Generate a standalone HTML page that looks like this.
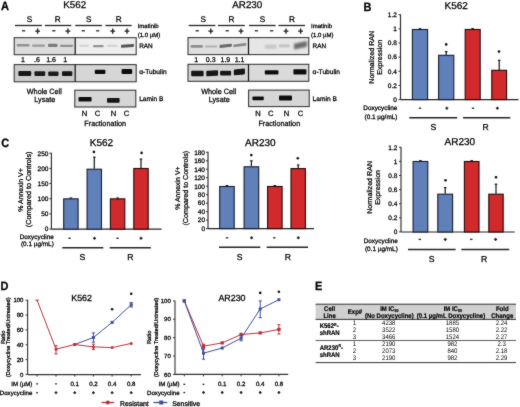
<!DOCTYPE html>
<html><head><meta charset="utf-8"><style>
html,body{margin:0;padding:0;background:#fff;}
body{width:520px;height:407px;overflow:hidden;}
svg{display:block;font-family:"Liberation Sans", sans-serif;will-change:transform;text-rendering:geometricPrecision;}
</style></head><body>
<svg width="520" height="407" viewBox="0 0 520 407">
<defs>
<filter id="b1" x="-30%" y="-100%" width="160%" height="300%"><feGaussianBlur stdDeviation="0.5"/></filter>
<filter id="b2" x="-30%" y="-100%" width="160%" height="300%"><feGaussianBlur stdDeviation="1"/></filter>
</defs>
<filter id="soft" filterUnits="userSpaceOnUse" x="0" y="0" width="520" height="407" color-interpolation-filters="sRGB"><feConvolveMatrix order="3" kernelMatrix="1 2 1 2 24.0 2 1 2 1" divisor="36.0" edgeMode="duplicate" preserveAlpha="true"/></filter>
<rect width="520" height="407" fill="#fff"/>
<g filter="url(#soft)">
<rect width="520" height="407" fill="#fff"/>
<text x="0.9" y="9.9" font-size="11.0" text-anchor="start" font-weight="bold" fill="#000" transform="translate(0.9 9.9) scale(1 1.1) translate(-0.9 -9.9)" stroke="#000" stroke-width="0.25">A</text>
<text x="363.6" y="10.7" font-size="11.0" text-anchor="start" font-weight="bold" fill="#000" transform="translate(363.6 10.7) scale(1 1.1) translate(-363.6 -10.7)" stroke="#000" stroke-width="0.25">B</text>
<text x="1.3" y="147.3" font-size="11.0" text-anchor="start" font-weight="bold" fill="#000" transform="translate(1.3 147.3) scale(1 1.1) translate(-1.3 -147.3)" stroke="#000" stroke-width="0.25">C</text>
<text x="0.4" y="290.0" font-size="11.0" text-anchor="start" font-weight="bold" fill="#000" transform="translate(0.4 290.0) scale(1 1.1) translate(-0.4 -290.0)" stroke="#000" stroke-width="0.25">D</text>
<text x="315.1" y="289.9" font-size="11.0" text-anchor="start" font-weight="bold" fill="#000" transform="translate(315.1 289.9) scale(1 1.1) translate(-315.1 -289.9)" stroke="#000" stroke-width="0.25">E</text>
<rect x="14.2" y="37.7" width="61.0" height="17.0" fill="#dcdcdc" stroke="none" stroke-width="1"/>
<rect x="75.2" y="37.7" width="60.999999999999986" height="17.0" fill="#eeeeee" stroke="none" stroke-width="1"/>
<g filter="url(#b1)"><rect x="16.6" y="44.0" width="12.899999999999999" height="2.3999999999999986" rx="1.0" fill="#929292"/></g>
<g filter="url(#b1)"><rect x="32" y="44.4" width="13" height="2.3999999999999986" rx="1.0" fill="#9a9a9a"/></g>
<g filter="url(#b1)"><rect x="48" y="43.7" width="9.5" height="3.299999999999997" rx="1.0" fill="#7c7c7c"/></g>
<g filter="url(#b1)"><rect x="60" y="44.7" width="13" height="2.3999999999999986" rx="1.0" fill="#909090"/></g>
<g filter="url(#b1)"><rect x="79" y="44.8" width="10.299999999999997" height="2.0" rx="1.0" fill="#d4d4d4"/></g>
<g filter="url(#b1)"><rect x="93" y="44.9" width="10.599999999999994" height="2.3000000000000043" rx="1.0" fill="#939393"/></g>
<g filter="url(#b1)"><rect x="107" y="44.8" width="10.299999999999997" height="2.0" rx="1.0" fill="#d0d0d0"/></g>
<g filter="url(#b1)"><rect x="121" y="44.4" width="13" height="2.8999999999999986" rx="1.0" fill="#575757" transform="translate(127.5 45.849999999999994) skewY(-4) translate(-127.5 -45.849999999999994)"/></g>
<rect x="14.2" y="37.7" width="121.99999999999999" height="17.0" fill="none" stroke="#333" stroke-width="1.05"/>
<line x1="75.2" y1="37.7" x2="75.2" y2="54.7" stroke="#111" stroke-width="1.2"/>
<rect x="14.2" y="64.6" width="61.0" height="17.200000000000003" fill="#cbcbcb" stroke="none" stroke-width="1"/>
<rect x="75.2" y="64.6" width="60.999999999999986" height="17.200000000000003" fill="#d6d6d6" stroke="none" stroke-width="1"/>
<g filter="url(#b1)"><rect x="18.4" y="71.1" width="12.8" height="4.800000000000011" rx="1.0" fill="#151515"/></g>
<g filter="url(#b1)"><rect x="34.5" y="71.19999999999999" width="10.700000000000003" height="4.700000000000017" rx="1.0" fill="#1a1a1a"/></g>
<g filter="url(#b1)"><rect x="48.2" y="71.39999999999999" width="10.299999999999997" height="4.500000000000014" rx="1.0" fill="#1a1a1a"/></g>
<g filter="url(#b1)"><rect x="62" y="71.3" width="10.299999999999997" height="4.6000000000000085" rx="1.0" fill="#151515"/></g>
<g filter="url(#b1)"><rect x="94.8" y="69.69999999999999" width="10.600000000000009" height="4.300000000000011" rx="1.0" fill="#0e0e0e"/></g>
<g filter="url(#b1)"><rect x="121.6" y="69.1" width="10.599999999999994" height="4.900000000000006" rx="1.0" fill="#0e0e0e"/></g>
<rect x="14.2" y="64.6" width="121.99999999999999" height="17.200000000000003" fill="none" stroke="#333" stroke-width="1.05"/>
<line x1="75.2" y1="64.6" x2="75.2" y2="81.8" stroke="#111" stroke-width="1.2"/>
<rect x="74.8" y="90.2" width="61.000000000000014" height="16.799999999999997" fill="#d6d6d6" stroke="none" stroke-width="1"/>
<g filter="url(#b1)"><rect x="78.5" y="96.89999999999999" width="13.099999999999994" height="4.500000000000014" rx="1.0" fill="#0e0e0e"/></g>
<g filter="url(#b1)"><rect x="107" y="98.1" width="12.599999999999994" height="4.6000000000000085" rx="1.0" fill="#121212"/></g>
<rect x="74.8" y="90.2" width="61.000000000000014" height="16.799999999999997" fill="none" stroke="#333" stroke-width="1.05"/>
<text x="63.3" y="8.1" font-size="9.8" text-anchor="start" font-weight="normal" fill="#000" stroke="#000" stroke-width="0.26">K562</text>
<text x="29.4" y="22.2" font-size="8.2" text-anchor="middle" font-weight="normal" fill="#000" stroke="#000" stroke-width="0.26">S</text>
<text x="57.8" y="22.2" font-size="8.2" text-anchor="middle" font-weight="normal" fill="#000" stroke="#000" stroke-width="0.26">R</text>
<text x="88.8" y="22.2" font-size="8.2" text-anchor="middle" font-weight="normal" fill="#000" stroke="#000" stroke-width="0.26">S</text>
<text x="118.8" y="22.2" font-size="8.2" text-anchor="middle" font-weight="normal" fill="#000" stroke="#000" stroke-width="0.26">R</text>
<line x1="15" y1="25.5" x2="42" y2="25.5" stroke="#222" stroke-width="1.3"/>
<line x1="44.8" y1="25.5" x2="71.3" y2="25.5" stroke="#222" stroke-width="1.3"/>
<line x1="75.2" y1="25.5" x2="102" y2="25.5" stroke="#222" stroke-width="1.3"/>
<line x1="105.4" y1="25.5" x2="131.7" y2="25.5" stroke="#222" stroke-width="1.3"/>
<line x1="22.0" y1="30.8" x2="25.200000000000003" y2="30.8" stroke="#222" stroke-width="1.3"/>
<line x1="35.2" y1="31.1" x2="40.0" y2="31.1" stroke="#222" stroke-width="1.35"/>
<line x1="37.6" y1="28.4" x2="37.6" y2="33.8" stroke="#222" stroke-width="1.35"/>
<line x1="52.199999999999996" y1="30.8" x2="55.4" y2="30.8" stroke="#222" stroke-width="1.3"/>
<line x1="65.5" y1="31.1" x2="70.30000000000001" y2="31.1" stroke="#222" stroke-width="1.35"/>
<line x1="67.9" y1="28.4" x2="67.9" y2="33.8" stroke="#222" stroke-width="1.35"/>
<line x1="81.7" y1="30.8" x2="84.89999999999999" y2="30.8" stroke="#222" stroke-width="1.3"/>
<line x1="96.10000000000001" y1="30.8" x2="99.3" y2="30.8" stroke="#222" stroke-width="1.3"/>
<line x1="110.3" y1="31.1" x2="115.10000000000001" y2="31.1" stroke="#222" stroke-width="1.35"/>
<line x1="112.7" y1="28.4" x2="112.7" y2="33.8" stroke="#222" stroke-width="1.35"/>
<line x1="124.6" y1="31.1" x2="129.4" y2="31.1" stroke="#222" stroke-width="1.35"/>
<line x1="127" y1="28.4" x2="127" y2="33.8" stroke="#222" stroke-width="1.35"/>
<text x="137.7" y="28.0" font-size="6.0" text-anchor="start" font-weight="normal" fill="#000" stroke="#000" stroke-width="0.26">Imatinib</text>
<text x="137.7" y="36.7" font-size="6.0" text-anchor="start" font-weight="normal" fill="#000" stroke="#000" stroke-width="0.26">(1.0 µM)</text>
<text x="139.2" y="48.2" font-size="6.4" text-anchor="start" font-weight="normal" fill="#000" stroke="#000" stroke-width="0.26">RAN</text>
<text x="139.2" y="74.3" font-size="6.6" text-anchor="start" font-weight="normal" fill="#000" stroke="#000" stroke-width="0.26">α-Tubulin</text>
<text x="139.2" y="100.7" font-size="6.6" text-anchor="start" font-weight="normal" fill="#000" stroke="#000" stroke-width="0.26">Lamin B</text>
<text x="22.9" y="62" font-size="7" text-anchor="middle" font-weight="normal" fill="#000" stroke="#000" stroke-width="0.26">1</text>
<text x="37" y="62" font-size="7" text-anchor="middle" font-weight="normal" fill="#000" stroke="#000" stroke-width="0.26">.6</text>
<text x="51.1" y="62" font-size="7" text-anchor="middle" font-weight="normal" fill="#000" stroke="#000" stroke-width="0.26">1.6</text>
<text x="65.1" y="62" font-size="7" text-anchor="middle" font-weight="normal" fill="#000" stroke="#000" stroke-width="0.26">1</text>
<text x="44.300000000000004" y="93.7" font-size="7.6" text-anchor="middle" font-weight="normal" fill="#000" transform="translate(44.300000000000004 93.7) scale(0.955 1) translate(-44.300000000000004 -93.7)" stroke="#000" stroke-width="0.26">Whole Cell</text>
<text x="44.800000000000004" y="102.0" font-size="7.6" text-anchor="middle" font-weight="normal" fill="#000" transform="translate(44.800000000000004 102.0) scale(0.955 1) translate(-44.800000000000004 -102.0)" stroke="#000" stroke-width="0.26">Lysate</text>
<text x="84.5" y="116" font-size="7.6" text-anchor="middle" font-weight="normal" fill="#000" stroke="#000" stroke-width="0.26">N</text>
<text x="97.4" y="116" font-size="7.6" text-anchor="middle" font-weight="normal" fill="#000" stroke="#000" stroke-width="0.26">C</text>
<text x="113.4" y="116" font-size="7.6" text-anchor="middle" font-weight="normal" fill="#000" stroke="#000" stroke-width="0.26">N</text>
<text x="126.5" y="116" font-size="7.6" text-anchor="middle" font-weight="normal" fill="#000" stroke="#000" stroke-width="0.26">C</text>
<text x="105.2" y="126.4" font-size="7.6" text-anchor="middle" font-weight="normal" fill="#000" transform="translate(105.2 126.4) scale(0.95 1) translate(-105.2 -126.4)" stroke="#000" stroke-width="0.26">Fractionation</text>
<rect x="188" y="37.6" width="60.5" height="17.0" fill="#dfdfdf" stroke="none" stroke-width="1"/>
<rect x="248.5" y="37.6" width="60.30000000000001" height="17.0" fill="#e6e6e6" stroke="none" stroke-width="1"/>
<g filter="url(#b1)"><rect x="190.6" y="45" width="12.300000000000011" height="2.700000000000003" rx="1.0" fill="#8e8e8e"/></g>
<g filter="url(#b1)"><rect x="204.8" y="45.5" width="12.399999999999977" height="2.0" rx="1.0" fill="#b3b3b3"/></g>
<g filter="url(#b1)"><rect x="219.6" y="44.3" width="12.300000000000011" height="3.1000000000000014" rx="1.0" fill="#696969" transform="translate(225.75 45.849999999999994) skewY(-6) translate(-225.75 -45.849999999999994)"/></g>
<g filter="url(#b1)"><rect x="233.4" y="43.8" width="13.0" height="2.6000000000000014" rx="1.0" fill="#878787" transform="translate(239.9 45.099999999999994) skewY(-7) translate(-239.9 -45.099999999999994)"/></g>
<g filter="url(#b2)"><rect x="264.8" y="44.8" width="11.800000000000011" height="3.700000000000003" rx="1.0" fill="#c2c2c2"/></g>
<g filter="url(#b1)"><rect x="279" y="44.2" width="10.699999999999989" height="3.1999999999999957" rx="1.0" fill="#c6c6c6"/></g>
<g filter="url(#b2)"><rect x="294" y="42.4" width="13" height="5.800000000000004" rx="1.0" fill="#6a6a6a" transform="translate(300.5 45.3) skewY(-12) translate(-300.5 -45.3)"/></g>
<rect x="188" y="37.6" width="120.80000000000001" height="17.0" fill="none" stroke="#333" stroke-width="1.05"/>
<line x1="248.5" y1="37.6" x2="248.5" y2="54.6" stroke="#111" stroke-width="1.2"/>
<rect x="188" y="64.3" width="60.5" height="17.0" fill="#d4d4d4" stroke="none" stroke-width="1"/>
<rect x="248.5" y="64.3" width="60.30000000000001" height="17.0" fill="#dadada" stroke="none" stroke-width="1"/>
<g filter="url(#b1)"><rect x="191.2" y="70.8" width="12.400000000000006" height="5.400000000000006" rx="1.0" fill="#141414"/></g>
<g filter="url(#b1)"><rect x="206.3" y="70.5" width="11.799999999999983" height="5.6000000000000085" rx="1.0" fill="#161616" transform="translate(212.2 73.30000000000001) skewY(-3) translate(-212.2 -73.30000000000001)"/></g>
<g filter="url(#b1)"><rect x="220.1" y="70.8" width="11.0" height="4.700000000000003" rx="1.0" fill="#181818"/></g>
<g filter="url(#b1)"><rect x="233.8" y="69.0" width="11.099999999999994" height="5.800000000000011" rx="1.0" fill="#121212" transform="translate(239.35000000000002 71.9) skewY(-5) translate(-239.35000000000002 -71.9)"/></g>
<g filter="url(#b1)"><rect x="264.8" y="70.3" width="13.599999999999966" height="4.1000000000000085" rx="1.0" fill="#0e0e0e"/></g>
<g filter="url(#b1)"><rect x="293.4" y="69.19999999999999" width="13.0" height="5.200000000000017" rx="1.0" fill="#0e0e0e"/></g>
<rect x="188" y="64.3" width="120.80000000000001" height="17.0" fill="none" stroke="#333" stroke-width="1.05"/>
<line x1="248.5" y1="64.3" x2="248.5" y2="81.3" stroke="#111" stroke-width="1.2"/>
<rect x="248.6" y="90.1" width="60.599999999999994" height="16.5" fill="#d6d6d6" stroke="none" stroke-width="1"/>
<g filter="url(#b1)"><rect x="252.4" y="96.6" width="11.400000000000006" height="3.6000000000000085" rx="1.0" fill="#0e0e0e"/></g>
<g filter="url(#b1)"><rect x="279" y="95.6" width="13" height="4.800000000000011" rx="1.0" fill="#111"/></g>
<rect x="248.6" y="90.1" width="60.599999999999994" height="16.5" fill="none" stroke="#333" stroke-width="1.05"/>
<text x="232.3" y="8.1" font-size="9.8" text-anchor="start" font-weight="normal" fill="#000" stroke="#000" stroke-width="0.26">AR230</text>
<text x="203.2" y="22.2" font-size="8.2" text-anchor="middle" font-weight="normal" fill="#000" stroke="#000" stroke-width="0.26">S</text>
<text x="231.5" y="22.2" font-size="8.2" text-anchor="middle" font-weight="normal" fill="#000" stroke="#000" stroke-width="0.26">R</text>
<text x="262.4" y="22.2" font-size="8.2" text-anchor="middle" font-weight="normal" fill="#000" stroke="#000" stroke-width="0.26">S</text>
<text x="291.9" y="22.2" font-size="8.2" text-anchor="middle" font-weight="normal" fill="#000" stroke="#000" stroke-width="0.26">R</text>
<line x1="188.7" y1="25.5" x2="215.4" y2="25.5" stroke="#222" stroke-width="1.3"/>
<line x1="218" y1="25.5" x2="244.8" y2="25.5" stroke="#222" stroke-width="1.3"/>
<line x1="249" y1="25.5" x2="275.6" y2="25.5" stroke="#222" stroke-width="1.3"/>
<line x1="278.5" y1="25.5" x2="305" y2="25.5" stroke="#222" stroke-width="1.3"/>
<line x1="195.6" y1="30.8" x2="198.79999999999998" y2="30.8" stroke="#222" stroke-width="1.3"/>
<line x1="208.4" y1="31.1" x2="213.20000000000002" y2="31.1" stroke="#222" stroke-width="1.35"/>
<line x1="210.8" y1="28.4" x2="210.8" y2="33.8" stroke="#222" stroke-width="1.35"/>
<line x1="225.6" y1="30.8" x2="228.79999999999998" y2="30.8" stroke="#222" stroke-width="1.3"/>
<line x1="238.6" y1="31.1" x2="243.4" y2="31.1" stroke="#222" stroke-width="1.35"/>
<line x1="241" y1="28.4" x2="241" y2="33.8" stroke="#222" stroke-width="1.35"/>
<line x1="254.70000000000002" y1="30.8" x2="257.90000000000003" y2="30.8" stroke="#222" stroke-width="1.3"/>
<line x1="270.09999999999997" y1="30.8" x2="273.3" y2="30.8" stroke="#222" stroke-width="1.3"/>
<line x1="283.6" y1="31.1" x2="288.4" y2="31.1" stroke="#222" stroke-width="1.35"/>
<line x1="286" y1="28.4" x2="286" y2="33.8" stroke="#222" stroke-width="1.35"/>
<line x1="298.20000000000005" y1="31.1" x2="303.0" y2="31.1" stroke="#222" stroke-width="1.35"/>
<line x1="300.6" y1="28.4" x2="300.6" y2="33.8" stroke="#222" stroke-width="1.35"/>
<text x="311.1" y="28.0" font-size="6.0" text-anchor="start" font-weight="normal" fill="#000" stroke="#000" stroke-width="0.26">Imatinib</text>
<text x="311.1" y="36.7" font-size="6.0" text-anchor="start" font-weight="normal" fill="#000" stroke="#000" stroke-width="0.26">(1.0 µM)</text>
<text x="312.6" y="48.2" font-size="6.4" text-anchor="start" font-weight="normal" fill="#000" stroke="#000" stroke-width="0.26">RAN</text>
<text x="312.6" y="74.3" font-size="6.6" text-anchor="start" font-weight="normal" fill="#000" stroke="#000" stroke-width="0.26">α-Tubulin</text>
<text x="312.6" y="100.7" font-size="6.6" text-anchor="start" font-weight="normal" fill="#000" stroke="#000" stroke-width="0.26">Lamin B</text>
<text x="196.3" y="62" font-size="7" text-anchor="middle" font-weight="normal" fill="#000" stroke="#000" stroke-width="0.26">1</text>
<text x="210.7" y="62" font-size="7" text-anchor="middle" font-weight="normal" fill="#000" stroke="#000" stroke-width="0.26">0.3</text>
<text x="225.4" y="62" font-size="7" text-anchor="middle" font-weight="normal" fill="#000" stroke="#000" stroke-width="0.26">1.9</text>
<text x="239.6" y="62" font-size="7" text-anchor="middle" font-weight="normal" fill="#000" stroke="#000" stroke-width="0.26">1.1</text>
<text x="218.7" y="93.7" font-size="7.6" text-anchor="middle" font-weight="normal" fill="#000" transform="translate(218.7 93.7) scale(0.955 1) translate(-218.7 -93.7)" stroke="#000" stroke-width="0.26">Whole Cell</text>
<text x="219.2" y="102.0" font-size="7.6" text-anchor="middle" font-weight="normal" fill="#000" transform="translate(219.2 102.0) scale(0.955 1) translate(-219.2 -102.0)" stroke="#000" stroke-width="0.26">Lysate</text>
<text x="258" y="116" font-size="7.6" text-anchor="middle" font-weight="normal" fill="#000" stroke="#000" stroke-width="0.26">N</text>
<text x="270.8" y="116" font-size="7.6" text-anchor="middle" font-weight="normal" fill="#000" stroke="#000" stroke-width="0.26">C</text>
<text x="286.4" y="116" font-size="7.6" text-anchor="middle" font-weight="normal" fill="#000" stroke="#000" stroke-width="0.26">N</text>
<text x="300.4" y="116" font-size="7.6" text-anchor="middle" font-weight="normal" fill="#000" stroke="#000" stroke-width="0.26">C</text>
<text x="279.3" y="126.4" font-size="7.6" text-anchor="middle" font-weight="normal" fill="#000" transform="translate(279.3 126.4) scale(0.95 1) translate(-279.3 -126.4)" stroke="#000" stroke-width="0.26">Fractionation</text>
<line x1="400.5" y1="14.299999999999999" x2="400.5" y2="99.6" stroke="#2a2a2a" stroke-width="1.15"/>
<line x1="400.5" y1="99.6" x2="518.5" y2="99.6" stroke="#222" stroke-width="1.2"/>
<line x1="398.5" y1="14.75" x2="400.5" y2="14.75" stroke="#333" stroke-width="1"/>
<text x="396.9" y="17.05" font-size="6.5" text-anchor="end" font-weight="normal" fill="#000" stroke="#000" stroke-width="0.26">1.2</text>
<line x1="398.5" y1="28.89" x2="400.5" y2="28.89" stroke="#333" stroke-width="1"/>
<text x="396.9" y="31.19" font-size="6.5" text-anchor="end" font-weight="normal" fill="#000" stroke="#000" stroke-width="0.26">1</text>
<line x1="398.5" y1="43.03" x2="400.5" y2="43.03" stroke="#333" stroke-width="1"/>
<text x="396.9" y="45.33" font-size="6.5" text-anchor="end" font-weight="normal" fill="#000" stroke="#000" stroke-width="0.26">0.8</text>
<line x1="398.5" y1="57.17" x2="400.5" y2="57.17" stroke="#333" stroke-width="1"/>
<text x="396.9" y="59.47" font-size="6.5" text-anchor="end" font-weight="normal" fill="#000" stroke="#000" stroke-width="0.26">0.6</text>
<line x1="398.5" y1="71.31" x2="400.5" y2="71.31" stroke="#333" stroke-width="1"/>
<text x="396.9" y="73.61" font-size="6.5" text-anchor="end" font-weight="normal" fill="#000" stroke="#000" stroke-width="0.26">0.4</text>
<line x1="398.5" y1="85.45" x2="400.5" y2="85.45" stroke="#333" stroke-width="1"/>
<text x="396.9" y="87.75" font-size="6.5" text-anchor="end" font-weight="normal" fill="#000" stroke="#000" stroke-width="0.26">0.2</text>
<line x1="398.5" y1="99.59" x2="400.5" y2="99.59" stroke="#333" stroke-width="1"/>
<text x="396.9" y="101.89" font-size="6.5" text-anchor="end" font-weight="normal" fill="#000" stroke="#000" stroke-width="0.26">0</text>
<line x1="420.0" y1="28.7" x2="420.0" y2="29.1" stroke="#1a1a1a" stroke-width="1.25"/>
<line x1="418.7" y1="28.7" x2="421.3" y2="28.7" stroke="#1a1a1a" stroke-width="1.2"/>
<rect x="412.4" y="29.5" width="15.2" height="70.1" fill="#6080ba" stroke="#161c2c" stroke-width="1.1"/>
<line x1="446.2" y1="51.6" x2="446.2" y2="54.9" stroke="#1a1a1a" stroke-width="1.25"/>
<line x1="444.9" y1="51.6" x2="447.5" y2="51.6" stroke="#1a1a1a" stroke-width="1.2"/>
<rect x="438.59999999999997" y="55.3" width="15.2" height="44.3" fill="#6080ba" stroke="#161c2c" stroke-width="1.1"/>
<line x1="472.70000000000005" y1="28.7" x2="472.70000000000005" y2="29.1" stroke="#1a1a1a" stroke-width="1.25"/>
<line x1="471.40000000000003" y1="28.7" x2="474.00000000000006" y2="28.7" stroke="#1a1a1a" stroke-width="1.2"/>
<rect x="465.2" y="29.5" width="15.00000000000001" height="70.1" fill="#d12a2c" stroke="#260808" stroke-width="1.1"/>
<line x1="499.2" y1="60.3" x2="499.2" y2="69.9" stroke="#1a1a1a" stroke-width="1.25"/>
<line x1="497.9" y1="60.3" x2="500.5" y2="60.3" stroke="#1a1a1a" stroke-width="1.2"/>
<rect x="491.79999999999995" y="70.30000000000001" width="14.800000000000022" height="29.29999999999999" fill="#d12a2c" stroke="#260808" stroke-width="1.1"/>
<text x="456.2" y="8.6" font-size="10.0" text-anchor="middle" font-weight="normal" fill="#000" stroke="#000" stroke-width="0.26">K562</text>
<text x="373.9" y="57.3" font-size="7.1" text-anchor="middle" font-weight="normal" fill="#000" transform="translate(373.9 57.3) rotate(-90) translate(-373.9 -57.3)" stroke="#000" stroke-width="0.26">Normalized RAN</text>
<text x="382.3" y="57.3" font-size="7.05" text-anchor="middle" font-weight="normal" fill="#000" transform="translate(382.3 57.3) rotate(-90) translate(-382.3 -57.3)" stroke="#000" stroke-width="0.26">Expression</text>
<circle cx="446.2" cy="44.4" r="1.3" fill="#111"/>
<circle cx="499" cy="51.6" r="1.3" fill="#111"/>
<line x1="418.8" y1="108.2" x2="421.2" y2="108.2" stroke="#222" stroke-width="1.3"/>
<line x1="445.3" y1="108.2" x2="448.3" y2="108.2" stroke="#222" stroke-width="1.3"/>
<line x1="446.8" y1="106.7" x2="446.8" y2="109.7" stroke="#222" stroke-width="1.3"/>
<line x1="471.8" y1="108.2" x2="474.2" y2="108.2" stroke="#222" stroke-width="1.3"/>
<line x1="495.9" y1="108.2" x2="498.9" y2="108.2" stroke="#222" stroke-width="1.3"/>
<line x1="497.4" y1="106.7" x2="497.4" y2="109.7" stroke="#222" stroke-width="1.3"/>
<line x1="409.3" y1="117.8" x2="457.2" y2="117.8" stroke="#222" stroke-width="1.5"/>
<line x1="463" y1="117.8" x2="510.3" y2="117.8" stroke="#222" stroke-width="1.5"/>
<text x="433.4" y="130.4" font-size="8.6" text-anchor="middle" font-weight="normal" fill="#000" stroke="#000" stroke-width="0.26">S</text>
<text x="485.7" y="130.4" font-size="8.6" text-anchor="middle" font-weight="normal" fill="#000" stroke="#000" stroke-width="0.26">R</text>
<text x="397.4" y="110.3" font-size="6.4" text-anchor="end" font-weight="normal" fill="#000" stroke="#000" stroke-width="0.26">Doxycycline</text>
<text x="397.4" y="118.6" font-size="6.4" text-anchor="end" font-weight="normal" fill="#000" stroke="#000" stroke-width="0.26">(0.1 µg/mL)</text>
<line x1="401" y1="146.89999999999998" x2="401" y2="232" stroke="#2a2a2a" stroke-width="1.15"/>
<line x1="401" y1="232" x2="514.7" y2="232" stroke="#222" stroke-width="1.2"/>
<line x1="399" y1="147.3" x2="401" y2="147.3" stroke="#333" stroke-width="1"/>
<text x="397.4" y="149.60000000000002" font-size="6.5" text-anchor="end" font-weight="normal" fill="#000" stroke="#000" stroke-width="0.26">1.2</text>
<line x1="399" y1="161.4" x2="401" y2="161.4" stroke="#333" stroke-width="1"/>
<text x="397.4" y="163.70000000000002" font-size="6.5" text-anchor="end" font-weight="normal" fill="#000" stroke="#000" stroke-width="0.26">1</text>
<line x1="399" y1="175.5" x2="401" y2="175.5" stroke="#333" stroke-width="1"/>
<text x="397.4" y="177.8" font-size="6.5" text-anchor="end" font-weight="normal" fill="#000" stroke="#000" stroke-width="0.26">0.8</text>
<line x1="399" y1="189.60000000000002" x2="401" y2="189.60000000000002" stroke="#333" stroke-width="1"/>
<text x="397.4" y="191.90000000000003" font-size="6.5" text-anchor="end" font-weight="normal" fill="#000" stroke="#000" stroke-width="0.26">0.6</text>
<line x1="399" y1="203.70000000000002" x2="401" y2="203.70000000000002" stroke="#333" stroke-width="1"/>
<text x="397.4" y="206.00000000000003" font-size="6.5" text-anchor="end" font-weight="normal" fill="#000" stroke="#000" stroke-width="0.26">0.4</text>
<line x1="399" y1="217.8" x2="401" y2="217.8" stroke="#333" stroke-width="1"/>
<text x="397.4" y="220.10000000000002" font-size="6.5" text-anchor="end" font-weight="normal" fill="#000" stroke="#000" stroke-width="0.26">0.2</text>
<line x1="399" y1="231.9" x2="401" y2="231.9" stroke="#333" stroke-width="1"/>
<text x="397.4" y="234.20000000000002" font-size="6.5" text-anchor="end" font-weight="normal" fill="#000" stroke="#000" stroke-width="0.26">0</text>
<line x1="420.45" y1="160.7" x2="420.45" y2="161.1" stroke="#1a1a1a" stroke-width="1.25"/>
<line x1="419.15" y1="160.7" x2="421.75" y2="160.7" stroke="#1a1a1a" stroke-width="1.2"/>
<rect x="413.09999999999997" y="161.5" width="14.7" height="70.5" fill="#6080ba" stroke="#161c2c" stroke-width="1.1"/>
<line x1="445.2" y1="187.6" x2="445.2" y2="193.8" stroke="#1a1a1a" stroke-width="1.25"/>
<line x1="443.9" y1="187.6" x2="446.5" y2="187.6" stroke="#1a1a1a" stroke-width="1.2"/>
<rect x="437.79999999999995" y="194.20000000000002" width="14.800000000000022" height="37.79999999999999" fill="#6080ba" stroke="#161c2c" stroke-width="1.1"/>
<line x1="471.7" y1="160.7" x2="471.7" y2="161.1" stroke="#1a1a1a" stroke-width="1.25"/>
<line x1="470.4" y1="160.7" x2="473.0" y2="160.7" stroke="#1a1a1a" stroke-width="1.2"/>
<rect x="464.4" y="161.5" width="14.599999999999977" height="70.5" fill="#d12a2c" stroke="#260808" stroke-width="1.1"/>
<line x1="496.0" y1="184.2" x2="496.0" y2="193.8" stroke="#1a1a1a" stroke-width="1.25"/>
<line x1="494.7" y1="184.2" x2="497.3" y2="184.2" stroke="#1a1a1a" stroke-width="1.2"/>
<rect x="488.79999999999995" y="194.20000000000002" width="14.400000000000045" height="37.79999999999999" fill="#d12a2c" stroke="#260808" stroke-width="1.1"/>
<text x="459.8" y="145" font-size="10.0" text-anchor="middle" font-weight="normal" fill="#000" stroke="#000" stroke-width="0.26">AR230</text>
<text x="372.0" y="187.4" font-size="7.1" text-anchor="middle" font-weight="normal" fill="#000" transform="translate(372.0 187.4) rotate(-90) translate(-372.0 -187.4)" stroke="#000" stroke-width="0.26">Normalized RAN</text>
<text x="380.4" y="187.4" font-size="7.05" text-anchor="middle" font-weight="normal" fill="#000" transform="translate(380.4 187.4) rotate(-90) translate(-380.4 -187.4)" stroke="#000" stroke-width="0.26">Expression</text>
<circle cx="445.5" cy="180.2" r="1.3" fill="#111"/>
<circle cx="496" cy="177.2" r="1.3" fill="#111"/>
<line x1="418.6" y1="239.4" x2="421.0" y2="239.4" stroke="#222" stroke-width="1.3"/>
<line x1="443.8" y1="239.4" x2="446.8" y2="239.4" stroke="#222" stroke-width="1.3"/>
<line x1="445.3" y1="237.9" x2="445.3" y2="240.9" stroke="#222" stroke-width="1.3"/>
<line x1="470.1" y1="239.4" x2="472.5" y2="239.4" stroke="#222" stroke-width="1.3"/>
<line x1="494.1" y1="239.4" x2="497.1" y2="239.4" stroke="#222" stroke-width="1.3"/>
<line x1="495.6" y1="237.9" x2="495.6" y2="240.9" stroke="#222" stroke-width="1.3"/>
<line x1="408" y1="249.6" x2="455.6" y2="249.6" stroke="#222" stroke-width="1.5"/>
<line x1="461.4" y1="249.6" x2="509.2" y2="249.6" stroke="#222" stroke-width="1.5"/>
<text x="431.6" y="261.8" font-size="8.6" text-anchor="middle" font-weight="normal" fill="#000" stroke="#000" stroke-width="0.26">S</text>
<text x="484" y="261.8" font-size="8.6" text-anchor="middle" font-weight="normal" fill="#000" stroke="#000" stroke-width="0.26">R</text>
<text x="397.8" y="242.6" font-size="6.4" text-anchor="end" font-weight="normal" fill="#000" stroke="#000" stroke-width="0.26">Doxycycline</text>
<text x="397.8" y="250.8" font-size="6.4" text-anchor="end" font-weight="normal" fill="#000" stroke="#000" stroke-width="0.26">(0.1 µg/mL)</text>
<line x1="51.4" y1="152.7" x2="51.4" y2="229.2" stroke="#2a2a2a" stroke-width="1.15"/>
<line x1="51.4" y1="229.2" x2="161.6" y2="229.2" stroke="#222" stroke-width="1.2"/>
<line x1="49.4" y1="153.2" x2="51.4" y2="153.2" stroke="#333" stroke-width="1"/>
<text x="48.4" y="155.5" font-size="6.5" text-anchor="end" font-weight="normal" fill="#000" stroke="#000" stroke-width="0.26">250</text>
<line x1="49.4" y1="168.36999999999998" x2="51.4" y2="168.36999999999998" stroke="#333" stroke-width="1"/>
<text x="48.4" y="170.67" font-size="6.5" text-anchor="end" font-weight="normal" fill="#000" stroke="#000" stroke-width="0.26">200</text>
<line x1="49.4" y1="183.54" x2="51.4" y2="183.54" stroke="#333" stroke-width="1"/>
<text x="48.4" y="185.84" font-size="6.5" text-anchor="end" font-weight="normal" fill="#000" stroke="#000" stroke-width="0.26">150</text>
<line x1="49.4" y1="198.70999999999998" x2="51.4" y2="198.70999999999998" stroke="#333" stroke-width="1"/>
<text x="48.4" y="201.01" font-size="6.5" text-anchor="end" font-weight="normal" fill="#000" stroke="#000" stroke-width="0.26">100</text>
<line x1="49.4" y1="213.88" x2="51.4" y2="213.88" stroke="#333" stroke-width="1"/>
<text x="48.4" y="216.18" font-size="6.5" text-anchor="end" font-weight="normal" fill="#000" stroke="#000" stroke-width="0.26">50</text>
<line x1="49.4" y1="229.04999999999998" x2="51.4" y2="229.04999999999998" stroke="#333" stroke-width="1"/>
<text x="48.4" y="231.35" font-size="6.5" text-anchor="end" font-weight="normal" fill="#000" stroke="#000" stroke-width="0.26">0</text>
<line x1="70.9" y1="198.0" x2="70.9" y2="198.45" stroke="#1a1a1a" stroke-width="1.25"/>
<line x1="69.60000000000001" y1="198.0" x2="72.2" y2="198.0" stroke="#1a1a1a" stroke-width="1.2"/>
<rect x="63.699999999999996" y="198.85" width="14.400000000000002" height="30.35" fill="#6080ba" stroke="#161c2c" stroke-width="1.1"/>
<line x1="94.30000000000001" y1="157.2" x2="94.30000000000001" y2="168.8" stroke="#1a1a1a" stroke-width="1.25"/>
<line x1="93.00000000000001" y1="157.2" x2="95.60000000000001" y2="157.2" stroke="#1a1a1a" stroke-width="1.2"/>
<rect x="87.10000000000001" y="169.20000000000002" width="14.400000000000002" height="59.99999999999998" fill="#6080ba" stroke="#161c2c" stroke-width="1.1"/>
<line x1="117.6" y1="198.0" x2="117.6" y2="198.45" stroke="#1a1a1a" stroke-width="1.25"/>
<line x1="116.3" y1="198.0" x2="118.89999999999999" y2="198.0" stroke="#1a1a1a" stroke-width="1.2"/>
<rect x="110.4" y="198.85" width="14.400000000000002" height="30.35" fill="#d12a2c" stroke="#260808" stroke-width="1.1"/>
<line x1="141.0" y1="159.1" x2="141.0" y2="168.1" stroke="#1a1a1a" stroke-width="1.25"/>
<line x1="139.7" y1="159.1" x2="142.3" y2="159.1" stroke="#1a1a1a" stroke-width="1.2"/>
<rect x="133.8" y="168.5" width="14.399999999999988" height="60.699999999999996" fill="#d12a2c" stroke="#260808" stroke-width="1.1"/>
<text x="101.5" y="145.6" font-size="10.0" text-anchor="middle" font-weight="normal" fill="#000" stroke="#000" stroke-width="0.26">K562</text>
<text x="23.3" y="190.0" font-size="6.95" text-anchor="middle" font-weight="normal" fill="#000" transform="translate(23.3 190.0) rotate(-90) translate(-23.3 -190.0)" stroke="#000" stroke-width="0.26">% Annexin V+</text>
<text x="31.5" y="189.4" font-size="7.25" text-anchor="middle" font-weight="normal" fill="#000" transform="translate(31.5 189.4) rotate(-90) translate(-31.5 -189.4)" stroke="#000" stroke-width="0.26">(Compared to Controls)</text>
<circle cx="93.9" cy="151.9" r="1.3" fill="#111"/>
<circle cx="141.6" cy="152.9" r="1.3" fill="#111"/>
<line x1="68.39999999999999" y1="238.3" x2="70.8" y2="238.3" stroke="#222" stroke-width="1.3"/>
<line x1="93.0" y1="238.3" x2="96.0" y2="238.3" stroke="#222" stroke-width="1.3"/>
<line x1="94.5" y1="236.8" x2="94.5" y2="239.8" stroke="#222" stroke-width="1.3"/>
<line x1="116.3" y1="238.3" x2="118.7" y2="238.3" stroke="#222" stroke-width="1.3"/>
<line x1="139.5" y1="238.3" x2="142.5" y2="238.3" stroke="#222" stroke-width="1.3"/>
<line x1="141" y1="236.8" x2="141" y2="239.8" stroke="#222" stroke-width="1.3"/>
<line x1="62.3" y1="247.7" x2="103.3" y2="247.7" stroke="#222" stroke-width="1.5"/>
<line x1="109.7" y1="247.7" x2="150.8" y2="247.7" stroke="#222" stroke-width="1.5"/>
<text x="82.3" y="260.3" font-size="8.6" text-anchor="middle" font-weight="normal" fill="#000" stroke="#000" stroke-width="0.26">S</text>
<text x="130.3" y="260.3" font-size="8.6" text-anchor="middle" font-weight="normal" fill="#000" stroke="#000" stroke-width="0.26">R</text>
<text x="53.8" y="238.7" font-size="6.4" text-anchor="end" font-weight="normal" fill="#000" stroke="#000" stroke-width="0.26">Doxycycline</text>
<text x="53.8" y="245.8" font-size="6.4" text-anchor="end" font-weight="normal" fill="#000" stroke="#000" stroke-width="0.26">(0.1 µg/mL)</text>
<line x1="208" y1="151.79999999999998" x2="208" y2="228.6" stroke="#2a2a2a" stroke-width="1.15"/>
<line x1="208" y1="228.6" x2="314" y2="228.6" stroke="#222" stroke-width="1.2"/>
<line x1="206" y1="152.3" x2="208" y2="152.3" stroke="#333" stroke-width="1"/>
<text x="205" y="154.60000000000002" font-size="6.5" text-anchor="end" font-weight="normal" fill="#000" stroke="#000" stroke-width="0.26">180</text>
<line x1="206" y1="160.78" x2="208" y2="160.78" stroke="#333" stroke-width="1"/>
<text x="205" y="163.08" font-size="6.5" text-anchor="end" font-weight="normal" fill="#000" stroke="#000" stroke-width="0.26">160</text>
<line x1="206" y1="169.26000000000002" x2="208" y2="169.26000000000002" stroke="#333" stroke-width="1"/>
<text x="205" y="171.56000000000003" font-size="6.5" text-anchor="end" font-weight="normal" fill="#000" stroke="#000" stroke-width="0.26">140</text>
<line x1="206" y1="177.74" x2="208" y2="177.74" stroke="#333" stroke-width="1"/>
<text x="205" y="180.04000000000002" font-size="6.5" text-anchor="end" font-weight="normal" fill="#000" stroke="#000" stroke-width="0.26">120</text>
<line x1="206" y1="186.22000000000003" x2="208" y2="186.22000000000003" stroke="#333" stroke-width="1"/>
<text x="205" y="188.52000000000004" font-size="6.5" text-anchor="end" font-weight="normal" fill="#000" stroke="#000" stroke-width="0.26">100</text>
<line x1="206" y1="194.70000000000002" x2="208" y2="194.70000000000002" stroke="#333" stroke-width="1"/>
<text x="205" y="197.00000000000003" font-size="6.5" text-anchor="end" font-weight="normal" fill="#000" stroke="#000" stroke-width="0.26">80</text>
<line x1="206" y1="203.18" x2="208" y2="203.18" stroke="#333" stroke-width="1"/>
<text x="205" y="205.48000000000002" font-size="6.5" text-anchor="end" font-weight="normal" fill="#000" stroke="#000" stroke-width="0.26">60</text>
<line x1="206" y1="211.66000000000003" x2="208" y2="211.66000000000003" stroke="#333" stroke-width="1"/>
<text x="205" y="213.96000000000004" font-size="6.5" text-anchor="end" font-weight="normal" fill="#000" stroke="#000" stroke-width="0.26">40</text>
<line x1="206" y1="220.14000000000001" x2="208" y2="220.14000000000001" stroke="#333" stroke-width="1"/>
<text x="205" y="222.44000000000003" font-size="6.5" text-anchor="end" font-weight="normal" fill="#000" stroke="#000" stroke-width="0.26">20</text>
<line x1="206" y1="228.62" x2="208" y2="228.62" stroke="#333" stroke-width="1"/>
<text x="205" y="230.92000000000002" font-size="6.5" text-anchor="end" font-weight="normal" fill="#000" stroke="#000" stroke-width="0.26">0</text>
<line x1="226.95" y1="185.6" x2="226.95" y2="186.1" stroke="#1a1a1a" stroke-width="1.25"/>
<line x1="225.64999999999998" y1="185.6" x2="228.25" y2="185.6" stroke="#1a1a1a" stroke-width="1.2"/>
<rect x="219.70000000000002" y="186.5" width="14.499999999999982" height="42.1" fill="#6080ba" stroke="#161c2c" stroke-width="1.1"/>
<line x1="251.4" y1="160.8" x2="251.4" y2="166.4" stroke="#1a1a1a" stroke-width="1.25"/>
<line x1="250.1" y1="160.8" x2="252.70000000000002" y2="160.8" stroke="#1a1a1a" stroke-width="1.2"/>
<rect x="244.1" y="166.8" width="14.600000000000033" height="61.79999999999999" fill="#6080ba" stroke="#161c2c" stroke-width="1.1"/>
<line x1="274.85" y1="185.6" x2="274.85" y2="186.1" stroke="#1a1a1a" stroke-width="1.25"/>
<line x1="273.55" y1="185.6" x2="276.15000000000003" y2="185.6" stroke="#1a1a1a" stroke-width="1.2"/>
<rect x="267.59999999999997" y="186.5" width="14.50000000000001" height="42.1" fill="#d12a2c" stroke="#260808" stroke-width="1.1"/>
<line x1="298.20000000000005" y1="165" x2="298.20000000000005" y2="168.2" stroke="#1a1a1a" stroke-width="1.25"/>
<line x1="296.90000000000003" y1="165" x2="299.50000000000006" y2="165" stroke="#1a1a1a" stroke-width="1.2"/>
<rect x="291.0" y="168.6" width="14.399999999999988" height="60.00000000000001" fill="#d12a2c" stroke="#260808" stroke-width="1.1"/>
<text x="260.4" y="146" font-size="10.0" text-anchor="middle" font-weight="normal" fill="#000" stroke="#000" stroke-width="0.26">AR230</text>
<text x="179.8" y="188.1" font-size="6.95" text-anchor="middle" font-weight="normal" fill="#000" transform="translate(179.8 188.1) rotate(-90) translate(-179.8 -188.1)" stroke="#000" stroke-width="0.26">% Annexin V+</text>
<text x="188.1" y="188.2" font-size="7.15" text-anchor="middle" font-weight="normal" fill="#000" transform="translate(188.1 188.2) rotate(-90) translate(-188.1 -188.2)" stroke="#000" stroke-width="0.26">(Compared to Controls)</text>
<circle cx="251.3" cy="155.1" r="1.3" fill="#111"/>
<circle cx="297.8" cy="158.2" r="1.3" fill="#111"/>
<line x1="225.8" y1="237.8" x2="228.2" y2="237.8" stroke="#222" stroke-width="1.3"/>
<line x1="250.1" y1="237.8" x2="253.1" y2="237.8" stroke="#222" stroke-width="1.3"/>
<line x1="251.6" y1="236.3" x2="251.6" y2="239.3" stroke="#222" stroke-width="1.3"/>
<line x1="273.1" y1="237.8" x2="275.5" y2="237.8" stroke="#222" stroke-width="1.3"/>
<line x1="296.8" y1="237.8" x2="299.8" y2="237.8" stroke="#222" stroke-width="1.3"/>
<line x1="298.3" y1="236.3" x2="298.3" y2="239.3" stroke="#222" stroke-width="1.3"/>
<line x1="219" y1="247.3" x2="260.3" y2="247.3" stroke="#222" stroke-width="1.5"/>
<line x1="266.7" y1="247.3" x2="308" y2="247.3" stroke="#222" stroke-width="1.5"/>
<text x="239.6" y="259.9" font-size="8.6" text-anchor="middle" font-weight="normal" fill="#000" stroke="#000" stroke-width="0.26">S</text>
<text x="287.9" y="259.9" font-size="8.6" text-anchor="middle" font-weight="normal" fill="#000" stroke="#000" stroke-width="0.26">R</text>
<line x1="27.6" y1="299.8" x2="27.6" y2="374.6" stroke="#333" stroke-width="1.1"/>
<line x1="27.6" y1="374.6" x2="141" y2="374.6" stroke="#333" stroke-width="1.1"/>
<line x1="25.6" y1="300.2" x2="27.6" y2="300.2" stroke="#333" stroke-width="1"/>
<text x="23.400000000000002" y="302.3" font-size="6.0" text-anchor="end" font-weight="normal" fill="#000" stroke="#000" stroke-width="0.26">100</text>
<line x1="25.6" y1="315.05" x2="27.6" y2="315.05" stroke="#333" stroke-width="1"/>
<text x="23.400000000000002" y="317.15000000000003" font-size="6.0" text-anchor="end" font-weight="normal" fill="#000" stroke="#000" stroke-width="0.26">80</text>
<line x1="25.6" y1="329.9" x2="27.6" y2="329.9" stroke="#333" stroke-width="1"/>
<text x="23.400000000000002" y="332.0" font-size="6.0" text-anchor="end" font-weight="normal" fill="#000" stroke="#000" stroke-width="0.26">60</text>
<line x1="25.6" y1="344.75" x2="27.6" y2="344.75" stroke="#333" stroke-width="1"/>
<text x="23.400000000000002" y="346.85" font-size="6.0" text-anchor="end" font-weight="normal" fill="#000" stroke="#000" stroke-width="0.26">40</text>
<line x1="25.6" y1="359.59999999999997" x2="27.6" y2="359.59999999999997" stroke="#333" stroke-width="1"/>
<text x="23.400000000000002" y="361.7" font-size="6.0" text-anchor="end" font-weight="normal" fill="#000" stroke="#000" stroke-width="0.26">20</text>
<line x1="25.6" y1="374.45" x2="27.6" y2="374.45" stroke="#333" stroke-width="1"/>
<text x="23.400000000000002" y="376.55" font-size="6.0" text-anchor="end" font-weight="normal" fill="#000" stroke="#000" stroke-width="0.26">0</text>
<line x1="37.1" y1="374.6" x2="37.1" y2="376.6" stroke="#333" stroke-width="1"/>
<line x1="56" y1="374.6" x2="56" y2="376.6" stroke="#333" stroke-width="1"/>
<line x1="74.7" y1="374.6" x2="74.7" y2="376.6" stroke="#333" stroke-width="1"/>
<line x1="93.4" y1="374.6" x2="93.4" y2="376.6" stroke="#333" stroke-width="1"/>
<line x1="112.1" y1="374.6" x2="112.1" y2="376.6" stroke="#333" stroke-width="1"/>
<line x1="131.2" y1="374.6" x2="131.2" y2="376.6" stroke="#333" stroke-width="1"/>
<polyline points="74.7,344.5 93.4,337.5 112.1,322.4 131.2,304.8" fill="none" stroke="#3d4f9f" stroke-width="1"/>
<line x1="93.4" y1="332.9" x2="93.4" y2="342.2" stroke="#3d4f9f" stroke-width="1"/>
<line x1="91.80000000000001" y1="332.9" x2="95.0" y2="332.9" stroke="#3d4f9f" stroke-width="1"/>
<line x1="91.80000000000001" y1="342.2" x2="95.0" y2="342.2" stroke="#3d4f9f" stroke-width="1"/>
<line x1="131.2" y1="302.6" x2="131.2" y2="307" stroke="#3d4f9f" stroke-width="1"/>
<line x1="129.6" y1="302.6" x2="132.79999999999998" y2="302.6" stroke="#3d4f9f" stroke-width="1"/>
<line x1="129.6" y1="307" x2="132.79999999999998" y2="307" stroke="#3d4f9f" stroke-width="1"/>
<rect x="73.2" y="343.0" width="3" height="3" fill="#3d4f9f" stroke="none" stroke-width="1"/>
<rect x="91.9" y="336.0" width="3" height="3" fill="#3d4f9f" stroke="none" stroke-width="1"/>
<rect x="110.6" y="320.9" width="3" height="3" fill="#3d4f9f" stroke="none" stroke-width="1"/>
<rect x="129.7" y="303.3" width="3" height="3" fill="#3d4f9f" stroke="none" stroke-width="1"/>
<polyline points="37.1,300.2 56,349.2 74.7,344.5 93.4,346.9 112.1,347.6 131.2,343.4" fill="none" stroke="#bd3138" stroke-width="1"/>
<line x1="56" y1="345.7" x2="56" y2="353.9" stroke="#bd3138" stroke-width="1"/>
<line x1="54.4" y1="345.7" x2="57.6" y2="345.7" stroke="#bd3138" stroke-width="1"/>
<line x1="54.4" y1="353.9" x2="57.6" y2="353.9" stroke="#bd3138" stroke-width="1"/>
<line x1="93.4" y1="344.2" x2="93.4" y2="349.6" stroke="#bd3138" stroke-width="1"/>
<line x1="91.80000000000001" y1="344.2" x2="95.0" y2="344.2" stroke="#bd3138" stroke-width="1"/>
<line x1="91.80000000000001" y1="349.6" x2="95.0" y2="349.6" stroke="#bd3138" stroke-width="1"/>
<line x1="35.5" y1="300.2" x2="38.7" y2="300.2" stroke="#bd3138" stroke-width="1.2"/>
<circle cx="56" cy="349.2" r="1.5" fill="#bd3138"/>
<circle cx="74.7" cy="344.5" r="1.5" fill="#bd3138"/>
<circle cx="93.4" cy="346.9" r="1.5" fill="#bd3138"/>
<circle cx="112.1" cy="347.6" r="1.5" fill="#bd3138"/>
<circle cx="131.2" cy="343.4" r="1.5" fill="#bd3138"/>
<text x="81.6" y="301.3" font-size="8.9" text-anchor="middle" font-weight="normal" fill="#000" stroke="#000" stroke-width="0.26">K562</text>
<text x="5.1" y="337.3" font-size="5.8" text-anchor="middle" font-weight="normal" fill="#000" transform="translate(5.1 337.3) rotate(-90) translate(-5.1 -337.3)" stroke="#000" stroke-width="0.26">Ratio</text>
<text x="10.4" y="337.3" font-size="5.55" text-anchor="middle" font-weight="normal" fill="#000" transform="translate(10.4 337.3) rotate(-90) translate(-10.4 -337.3)" stroke="#000" stroke-width="0.26">(Doxycycline Treated/Untreated)</text>
<text x="32.3" y="385.8" font-size="6.1" text-anchor="end" font-weight="normal" fill="#000" stroke="#000" stroke-width="0.26">IM (µM)</text>
<text x="32.3" y="394.7" font-size="6.1" text-anchor="end" font-weight="normal" fill="#000" stroke="#000" stroke-width="0.26">Doxycycline</text>
<rect x="36.2" y="383.2" width="1.8" height="1.3" fill="#222" stroke="none" stroke-width="1"/>
<rect x="55.1" y="383.2" width="1.8" height="1.3" fill="#222" stroke="none" stroke-width="1"/>
<text x="74.7" y="385.8" font-size="6.1" text-anchor="middle" font-weight="normal" fill="#000" stroke="#000" stroke-width="0.26">0.1</text>
<text x="93.4" y="385.8" font-size="6.1" text-anchor="middle" font-weight="normal" fill="#000" stroke="#000" stroke-width="0.26">0.2</text>
<text x="112.1" y="385.8" font-size="6.1" text-anchor="middle" font-weight="normal" fill="#000" stroke="#000" stroke-width="0.26">0.4</text>
<text x="131.2" y="385.8" font-size="6.1" text-anchor="middle" font-weight="normal" fill="#000" stroke="#000" stroke-width="0.26">0.8</text>
<rect x="36.2" y="392.09999999999997" width="1.8" height="1.3" fill="#222" stroke="none" stroke-width="1"/>
<line x1="54.6" y1="392.7" x2="57.4" y2="392.7" stroke="#222" stroke-width="1.3"/>
<line x1="56" y1="391.3" x2="56" y2="394.09999999999997" stroke="#222" stroke-width="1.3"/>
<line x1="73.3" y1="392.7" x2="76.10000000000001" y2="392.7" stroke="#222" stroke-width="1.3"/>
<line x1="74.7" y1="391.3" x2="74.7" y2="394.09999999999997" stroke="#222" stroke-width="1.3"/>
<line x1="92.0" y1="392.7" x2="94.80000000000001" y2="392.7" stroke="#222" stroke-width="1.3"/>
<line x1="93.4" y1="391.3" x2="93.4" y2="394.09999999999997" stroke="#222" stroke-width="1.3"/>
<line x1="110.69999999999999" y1="392.7" x2="113.5" y2="392.7" stroke="#222" stroke-width="1.3"/>
<line x1="112.1" y1="391.3" x2="112.1" y2="394.09999999999997" stroke="#222" stroke-width="1.3"/>
<line x1="129.79999999999998" y1="392.7" x2="132.6" y2="392.7" stroke="#222" stroke-width="1.3"/>
<line x1="131.2" y1="391.3" x2="131.2" y2="394.09999999999997" stroke="#222" stroke-width="1.3"/>
<circle cx="112.1" cy="309.2" r="1.3" fill="#111"/>
<circle cx="131.2" cy="293.8" r="1.3" fill="#111"/>
<line x1="175" y1="300.7" x2="175" y2="374.4" stroke="#333" stroke-width="1.1"/>
<line x1="175" y1="374.4" x2="288.2" y2="374.4" stroke="#333" stroke-width="1.1"/>
<line x1="173" y1="300.9" x2="175" y2="300.9" stroke="#333" stroke-width="1"/>
<text x="170.8" y="303.0" font-size="6.0" text-anchor="end" font-weight="normal" fill="#000" stroke="#000" stroke-width="0.26">100</text>
<line x1="173" y1="319.28" x2="175" y2="319.28" stroke="#333" stroke-width="1"/>
<text x="170.8" y="321.38" font-size="6.0" text-anchor="end" font-weight="normal" fill="#000" stroke="#000" stroke-width="0.26">90</text>
<line x1="173" y1="337.65999999999997" x2="175" y2="337.65999999999997" stroke="#333" stroke-width="1"/>
<text x="170.8" y="339.76" font-size="6.0" text-anchor="end" font-weight="normal" fill="#000" stroke="#000" stroke-width="0.26">80</text>
<line x1="173" y1="356.03999999999996" x2="175" y2="356.03999999999996" stroke="#333" stroke-width="1"/>
<text x="170.8" y="358.14" font-size="6.0" text-anchor="end" font-weight="normal" fill="#000" stroke="#000" stroke-width="0.26">70</text>
<line x1="173" y1="374.41999999999996" x2="175" y2="374.41999999999996" stroke="#333" stroke-width="1"/>
<text x="170.8" y="376.52" font-size="6.0" text-anchor="end" font-weight="normal" fill="#000" stroke="#000" stroke-width="0.26">60</text>
<line x1="184.3" y1="374.4" x2="184.3" y2="376.4" stroke="#333" stroke-width="1"/>
<line x1="203.5" y1="374.4" x2="203.5" y2="376.4" stroke="#333" stroke-width="1"/>
<line x1="222.2" y1="374.4" x2="222.2" y2="376.4" stroke="#333" stroke-width="1"/>
<line x1="241.1" y1="374.4" x2="241.1" y2="376.4" stroke="#333" stroke-width="1"/>
<line x1="260.2" y1="374.4" x2="260.2" y2="376.4" stroke="#333" stroke-width="1"/>
<line x1="278.9" y1="374.4" x2="278.9" y2="376.4" stroke="#333" stroke-width="1"/>
<polyline points="184.3,300.9 203.5,346.2 222.2,342.9 241.1,334.5 260.2,332.9 278.9,329.4" fill="none" stroke="#bd3138" stroke-width="1"/>
<line x1="203.5" y1="344.2" x2="203.5" y2="348.4" stroke="#bd3138" stroke-width="1"/>
<line x1="201.9" y1="344.2" x2="205.1" y2="344.2" stroke="#bd3138" stroke-width="1"/>
<line x1="201.9" y1="348.4" x2="205.1" y2="348.4" stroke="#bd3138" stroke-width="1"/>
<line x1="278.9" y1="324.7" x2="278.9" y2="334" stroke="#bd3138" stroke-width="1"/>
<line x1="277.29999999999995" y1="324.7" x2="280.5" y2="324.7" stroke="#bd3138" stroke-width="1"/>
<line x1="277.29999999999995" y1="334" x2="280.5" y2="334" stroke="#bd3138" stroke-width="1"/>
<rect x="182.60000000000002" y="299.2" width="3.4" height="3.4" fill="#bd3138" stroke="none" stroke-width="1" rx="0.6"/>
<rect x="201.8" y="344.5" width="3.4" height="3.4" fill="#bd3138" stroke="none" stroke-width="1" rx="0.6"/>
<rect x="220.5" y="341.2" width="3.4" height="3.4" fill="#bd3138" stroke="none" stroke-width="1" rx="0.6"/>
<rect x="239.4" y="332.8" width="3.4" height="3.4" fill="#bd3138" stroke="none" stroke-width="1" rx="0.6"/>
<rect x="258.5" y="331.2" width="3.4" height="3.4" fill="#bd3138" stroke="none" stroke-width="1" rx="0.6"/>
<rect x="277.2" y="327.7" width="3.4" height="3.4" fill="#bd3138" stroke="none" stroke-width="1" rx="0.6"/>
<polyline points="184.3,300.9 203.5,353.2 222.2,348 241.1,338.2 260.2,309 278.9,299.7" fill="none" stroke="#3d4f9f" stroke-width="1"/>
<line x1="203.5" y1="349.2" x2="203.5" y2="359.2" stroke="#3d4f9f" stroke-width="1"/>
<line x1="201.9" y1="349.2" x2="205.1" y2="349.2" stroke="#3d4f9f" stroke-width="1"/>
<line x1="201.9" y1="359.2" x2="205.1" y2="359.2" stroke="#3d4f9f" stroke-width="1"/>
<line x1="260.2" y1="300.9" x2="260.2" y2="317.7" stroke="#3d4f9f" stroke-width="1"/>
<line x1="258.59999999999997" y1="300.9" x2="261.8" y2="300.9" stroke="#3d4f9f" stroke-width="1"/>
<line x1="258.59999999999997" y1="317.7" x2="261.8" y2="317.7" stroke="#3d4f9f" stroke-width="1"/>
<line x1="241.1" y1="335.6" x2="241.1" y2="340.8" stroke="#3d4f9f" stroke-width="1"/>
<line x1="239.5" y1="335.6" x2="242.7" y2="335.6" stroke="#3d4f9f" stroke-width="1"/>
<line x1="239.5" y1="340.8" x2="242.7" y2="340.8" stroke="#3d4f9f" stroke-width="1"/>
<rect x="182.8" y="299.4" width="3" height="3" fill="#3d4f9f" stroke="none" stroke-width="1"/>
<rect x="202.0" y="351.7" width="3" height="3" fill="#3d4f9f" stroke="none" stroke-width="1"/>
<rect x="220.7" y="346.5" width="3" height="3" fill="#3d4f9f" stroke="none" stroke-width="1"/>
<rect x="239.6" y="336.7" width="3" height="3" fill="#3d4f9f" stroke="none" stroke-width="1"/>
<rect x="258.7" y="307.5" width="3" height="3" fill="#3d4f9f" stroke="none" stroke-width="1"/>
<rect x="277.4" y="298.2" width="3" height="3" fill="#3d4f9f" stroke="none" stroke-width="1"/>
<text x="232" y="300.9" font-size="8.9" text-anchor="middle" font-weight="normal" fill="#000" stroke="#000" stroke-width="0.26">AR230</text>
<text x="151.5" y="337.3" font-size="5.8" text-anchor="middle" font-weight="normal" fill="#000" transform="translate(151.5 337.3) rotate(-90) translate(-151.5 -337.3)" stroke="#000" stroke-width="0.26">Ratio</text>
<text x="157.9" y="337.3" font-size="5.55" text-anchor="middle" font-weight="normal" fill="#000" transform="translate(157.9 337.3) rotate(-90) translate(-157.9 -337.3)" stroke="#000" stroke-width="0.26">(Doxycycline Treated/Untreated)</text>
<text x="179.6" y="386.3" font-size="6.1" text-anchor="end" font-weight="normal" fill="#000" stroke="#000" stroke-width="0.26">IM (µM)</text>
<text x="179.6" y="394.5" font-size="6.1" text-anchor="end" font-weight="normal" fill="#000" stroke="#000" stroke-width="0.26">Doxycycline</text>
<rect x="183.4" y="383.7" width="1.8" height="1.3" fill="#222" stroke="none" stroke-width="1"/>
<rect x="202.6" y="383.7" width="1.8" height="1.3" fill="#222" stroke="none" stroke-width="1"/>
<text x="222.2" y="386.3" font-size="6.1" text-anchor="middle" font-weight="normal" fill="#000" stroke="#000" stroke-width="0.26">0.1</text>
<text x="241.1" y="386.3" font-size="6.1" text-anchor="middle" font-weight="normal" fill="#000" stroke="#000" stroke-width="0.26">0.2</text>
<text x="260.2" y="386.3" font-size="6.1" text-anchor="middle" font-weight="normal" fill="#000" stroke="#000" stroke-width="0.26">0.4</text>
<text x="278.9" y="386.3" font-size="6.1" text-anchor="middle" font-weight="normal" fill="#000" stroke="#000" stroke-width="0.26">0.8</text>
<rect x="183.4" y="391.9" width="1.8" height="1.3" fill="#222" stroke="none" stroke-width="1"/>
<line x1="202.1" y1="392.5" x2="204.9" y2="392.5" stroke="#222" stroke-width="1.3"/>
<line x1="203.5" y1="391.1" x2="203.5" y2="393.9" stroke="#222" stroke-width="1.3"/>
<line x1="220.79999999999998" y1="392.5" x2="223.6" y2="392.5" stroke="#222" stroke-width="1.3"/>
<line x1="222.2" y1="391.1" x2="222.2" y2="393.9" stroke="#222" stroke-width="1.3"/>
<line x1="239.7" y1="392.5" x2="242.5" y2="392.5" stroke="#222" stroke-width="1.3"/>
<line x1="241.1" y1="391.1" x2="241.1" y2="393.9" stroke="#222" stroke-width="1.3"/>
<line x1="258.8" y1="392.5" x2="261.59999999999997" y2="392.5" stroke="#222" stroke-width="1.3"/>
<line x1="260.2" y1="391.1" x2="260.2" y2="393.9" stroke="#222" stroke-width="1.3"/>
<line x1="277.5" y1="392.5" x2="280.29999999999995" y2="392.5" stroke="#222" stroke-width="1.3"/>
<line x1="278.9" y1="391.1" x2="278.9" y2="393.9" stroke="#222" stroke-width="1.3"/>
<circle cx="260.2" cy="292.9" r="1.3" fill="#111"/>
<circle cx="278.9" cy="291.7" r="1.3" fill="#111"/>
<line x1="101.5" y1="402.5" x2="114.2" y2="402.5" stroke="#bd3138" stroke-width="1.3"/>
<circle cx="107.8" cy="402.5" r="2.1" fill="#bd3138"/>
<text x="120" y="405.6" font-size="6.9" text-anchor="start" font-weight="normal" fill="#000" stroke="#000" stroke-width="0.3">Resistant</text>
<line x1="153.5" y1="402.5" x2="167.3" y2="402.5" stroke="#3d4f9f" stroke-width="1.3"/>
<rect x="159.2" y="400.5" width="4" height="4" fill="#3d4f9f" stroke="none" stroke-width="1"/>
<text x="172.2" y="405.6" font-size="6.9" text-anchor="start" font-weight="normal" fill="#000" stroke="#000" stroke-width="0.3">Sensitive</text>
<rect x="315.6" y="304" width="200.4" height="15.4" fill="#d0d0d0" stroke="none" stroke-width="1"/>
<line x1="315.6" y1="304.2" x2="516" y2="304.2" stroke="#333" stroke-width="1"/>
<line x1="315.6" y1="319.4" x2="516" y2="319.4" stroke="#333" stroke-width="1"/>
<line x1="315.6" y1="340.5" x2="516" y2="340.5" stroke="#333" stroke-width="0.8"/>
<line x1="315.6" y1="362.6" x2="516" y2="362.6" stroke="#333" stroke-width="1"/>
<text x="329.6" y="310.9" font-size="6.0" text-anchor="middle" font-weight="bold" fill="#000" transform="translate(329.6 310.9) scale(1 1.12) translate(-329.6 -310.9)" stroke="#000" stroke-width="0.18">Cell</text>
<text x="329.6" y="317.6" font-size="6.0" text-anchor="middle" font-weight="bold" fill="#000" transform="translate(329.6 317.6) scale(1 1.12) translate(-329.6 -317.6)" stroke="#000" stroke-width="0.18">Line</text>
<text x="355" y="314.3" font-size="6.0" text-anchor="middle" font-weight="bold" fill="#000" transform="translate(355 314.3) scale(1 1.12) translate(-355 -314.3)" stroke="#000" stroke-width="0.18">Exp#</text>
<text x="389.3" y="310.9" font-size="6.0" text-anchor="middle" font-weight="bold" fill="#000" transform="translate(389.3 310.9) scale(1 1.12) translate(-389.3 -310.9)" stroke="#000" stroke-width="0.18">IM IC<tspan font-size="3.6" dy="1.3">50</tspan></text>
<text x="389.3" y="317.9" font-size="6.0" text-anchor="middle" font-weight="bold" fill="#000" transform="translate(389.3 317.9) scale(1 1.12) translate(-389.3 -317.9)" stroke="#000" stroke-width="0.18">(No Doxycycline)</text>
<text x="452.8" y="310.9" font-size="6.0" text-anchor="middle" font-weight="bold" fill="#000" transform="translate(452.8 310.9) scale(1 1.12) translate(-452.8 -310.9)" stroke="#000" stroke-width="0.18">IM IC<tspan font-size="3.6" dy="1.3">50</tspan></text>
<text x="451" y="317.9" font-size="6.0" text-anchor="middle" font-weight="bold" fill="#000" transform="translate(451 317.9) scale(1 1.12) translate(-451 -317.9)" stroke="#000" stroke-width="0.18">(0.1 µg/mL Doxycycline)</text>
<text x="502.3" y="310.9" font-size="6.0" text-anchor="middle" font-weight="bold" fill="#000" transform="translate(502.3 310.9) scale(1 1.12) translate(-502.3 -310.9)" stroke="#000" stroke-width="0.18">Fold</text>
<text x="502.3" y="317.9" font-size="6.0" text-anchor="middle" font-weight="bold" fill="#000" transform="translate(502.3 317.9) scale(1 1.12) translate(-502.3 -317.9)" stroke="#000" stroke-width="0.18">Change</text>
<text x="354.4" y="324.6" font-size="6.0" text-anchor="middle" font-weight="normal" fill="#000" transform="translate(354.4 324.6) scale(1 1.12) translate(-354.4 -324.6)">1</text>
<text x="388.8" y="324.6" font-size="6.0" text-anchor="middle" font-weight="normal" fill="#000" transform="translate(388.8 324.6) scale(1 1.12) translate(-388.8 -324.6)">4238</text>
<text x="452.4" y="324.6" font-size="6.0" text-anchor="middle" font-weight="normal" fill="#000" transform="translate(452.4 324.6) scale(1 1.12) translate(-452.4 -324.6)">1885</text>
<text x="501.6" y="324.6" font-size="6.0" text-anchor="middle" font-weight="normal" fill="#000" transform="translate(501.6 324.6) scale(1 1.12) translate(-501.6 -324.6)">2.24</text>
<text x="354.4" y="331.8" font-size="6.0" text-anchor="middle" font-weight="normal" fill="#000" transform="translate(354.4 331.8) scale(1 1.12) translate(-354.4 -331.8)">2</text>
<text x="388.8" y="331.8" font-size="6.0" text-anchor="middle" font-weight="normal" fill="#000" transform="translate(388.8 331.8) scale(1 1.12) translate(-388.8 -331.8)">3522</text>
<text x="452.4" y="331.8" font-size="6.0" text-anchor="middle" font-weight="normal" fill="#000" transform="translate(452.4 331.8) scale(1 1.12) translate(-452.4 -331.8)">1580</text>
<text x="501.6" y="331.8" font-size="6.0" text-anchor="middle" font-weight="normal" fill="#000" transform="translate(501.6 331.8) scale(1 1.12) translate(-501.6 -331.8)">2.22</text>
<text x="354.4" y="339" font-size="6.0" text-anchor="middle" font-weight="normal" fill="#000" transform="translate(354.4 339) scale(1 1.12) translate(-354.4 -339)">3</text>
<text x="388.8" y="339" font-size="6.0" text-anchor="middle" font-weight="normal" fill="#000" transform="translate(388.8 339) scale(1 1.12) translate(-388.8 -339)">3466</text>
<text x="452.4" y="339" font-size="6.0" text-anchor="middle" font-weight="normal" fill="#000" transform="translate(452.4 339) scale(1 1.12) translate(-452.4 -339)">1524</text>
<text x="501.6" y="339" font-size="6.0" text-anchor="middle" font-weight="normal" fill="#000" transform="translate(501.6 339) scale(1 1.12) translate(-501.6 -339)">2.27</text>
<text x="354.4" y="345.9" font-size="6.0" text-anchor="middle" font-weight="normal" fill="#000" transform="translate(354.4 345.9) scale(1 1.12) translate(-354.4 -345.9)">1</text>
<text x="388.8" y="345.9" font-size="6.0" text-anchor="middle" font-weight="normal" fill="#000" transform="translate(388.8 345.9) scale(1 1.12) translate(-388.8 -345.9)">2190</text>
<text x="452.4" y="345.9" font-size="6.0" text-anchor="middle" font-weight="normal" fill="#000" transform="translate(452.4 345.9) scale(1 1.12) translate(-452.4 -345.9)">982</text>
<text x="501.6" y="345.9" font-size="6.0" text-anchor="middle" font-weight="normal" fill="#000" transform="translate(501.6 345.9) scale(1 1.12) translate(-501.6 -345.9)">2.3</text>
<text x="354.4" y="353.1" font-size="6.0" text-anchor="middle" font-weight="normal" fill="#000" transform="translate(354.4 353.1) scale(1 1.12) translate(-354.4 -353.1)">2</text>
<text x="388.8" y="353.1" font-size="6.0" text-anchor="middle" font-weight="normal" fill="#000" transform="translate(388.8 353.1) scale(1 1.12) translate(-388.8 -353.1)">2073</text>
<text x="452.4" y="353.1" font-size="6.0" text-anchor="middle" font-weight="normal" fill="#000" transform="translate(452.4 353.1) scale(1 1.12) translate(-452.4 -353.1)">840</text>
<text x="501.6" y="353.1" font-size="6.0" text-anchor="middle" font-weight="normal" fill="#000" transform="translate(501.6 353.1) scale(1 1.12) translate(-501.6 -353.1)">2.18</text>
<text x="354.4" y="360.4" font-size="6.0" text-anchor="middle" font-weight="normal" fill="#000" transform="translate(354.4 360.4) scale(1 1.12) translate(-354.4 -360.4)">3</text>
<text x="388.8" y="360.4" font-size="6.0" text-anchor="middle" font-weight="normal" fill="#000" transform="translate(388.8 360.4) scale(1 1.12) translate(-388.8 -360.4)">2190</text>
<text x="452.4" y="360.4" font-size="6.0" text-anchor="middle" font-weight="normal" fill="#000" transform="translate(452.4 360.4) scale(1 1.12) translate(-452.4 -360.4)">982</text>
<text x="501.6" y="360.4" font-size="6.0" text-anchor="middle" font-weight="normal" fill="#000" transform="translate(501.6 360.4) scale(1 1.12) translate(-501.6 -360.4)">2.29</text>
<text x="319.7" y="328.3" font-size="6.0" text-anchor="start" font-weight="bold" fill="#000" transform="translate(319.7 328.3) scale(1 1.12) translate(-319.7 -328.3)" stroke="#000" stroke-width="0.18">K562<tspan font-size="3.6" dy="-2.2">R</tspan><tspan dy="2.2">-</tspan></text>
<text x="319.7" y="335.2" font-size="6.0" text-anchor="start" font-weight="bold" fill="#000" transform="translate(319.7 335.2) scale(1 1.12) translate(-319.7 -335.2)" stroke="#000" stroke-width="0.18">shRAN</text>
<text x="319.7" y="349.6" font-size="6.0" text-anchor="start" font-weight="bold" fill="#000" transform="translate(319.7 349.6) scale(1 1.12) translate(-319.7 -349.6)" stroke="#000" stroke-width="0.18">AR230<tspan font-size="3.6" dy="-2.2">R</tspan><tspan dy="2.2">-</tspan></text>
<text x="319.7" y="356.5" font-size="6.0" text-anchor="start" font-weight="bold" fill="#000" transform="translate(319.7 356.5) scale(1 1.12) translate(-319.7 -356.5)" stroke="#000" stroke-width="0.18">shRAN</text>
</g>
</svg>
</body></html>
